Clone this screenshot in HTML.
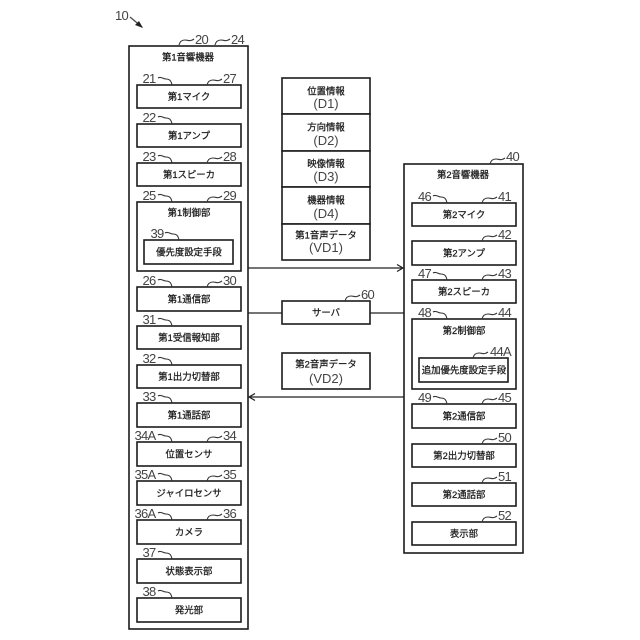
<!DOCTYPE html>
<html lang="ja"><head><meta charset="utf-8"><title>音響機器</title>
<style>
html,body{margin:0;padding:0;background:#fff}
svg{display:block}
text{font-family:"Liberation Sans","Noto Sans CJK JP",sans-serif;fill:#1a1a1a}
.t{font-size:9.4px;text-anchor:middle;stroke:#1a1a1a;stroke-width:.25px}
.m{font-size:13px;text-anchor:middle;fill:#444}
.e{font-size:13px;text-anchor:end;fill:#444;letter-spacing:-.7px}
.s{font-size:13px;text-anchor:start;fill:#444;letter-spacing:-.7px}
.b rect{fill:#fff;stroke:#1c1c1c;stroke-width:1.6}
.q use{fill:none;stroke:#333;stroke-width:1.1}
</style></head><body>
<svg width="640" height="640" viewBox="0 0 640 640" xmlns="http://www.w3.org/2000/svg">
<defs>
<path id="l" d="M0 0c3-2 5 1 8 1s5 1 6 6"/>
<path id="r" d="M0 7c1-4 3-5 6-5s5 2 9-1"/>
</defs>
<rect width="640" height="640" fill="#fff"/>

<!-- connectors -->
<g fill="none" stroke="#222" stroke-width="1.2">
<path d="M248 268H403M397 264.500L403 268L397 271.500"/>
<path d="M248 313H282M370 313H404"/>
<path d="M404 397H249M255 393.500L249 397L255 400.500"/>
<path d="M130 17L142 27" stroke="#444"/>
</g>
<path d="M143 28L135 25L139 21Z" fill="#222"/>

<!-- boxes -->
<g class="b">
<rect x="129" y="46" width="119" height="583"/>
<rect x="137" y="85" width="104" height="23"/>
<rect x="137" y="124" width="104" height="23"/>
<rect x="137" y="163" width="104" height="23"/>
<rect x="137" y="202" width="104" height="69"/>
<rect x="144" y="240" width="89" height="24"/>
<rect x="137" y="287" width="104" height="24"/>
<rect x="137" y="326" width="104" height="23"/>
<rect x="137" y="365" width="104" height="23"/>
<rect x="137" y="403" width="104" height="24"/>
<rect x="137" y="442" width="104" height="24"/>
<rect x="137" y="481" width="104" height="24"/>
<rect x="137" y="520" width="104" height="24"/>
<rect x="137" y="559" width="104" height="24"/>
<rect x="137" y="598" width="104" height="24"/>

<rect x="282" y="78" width="88" height="36"/>
<rect x="282" y="114" width="88" height="37"/>
<rect x="282" y="151" width="88" height="36"/>
<rect x="282" y="187" width="88" height="37"/>
<rect x="282" y="224" width="88" height="36"/>
<rect x="282" y="301" width="88" height="23"/>
<rect x="282" y="353" width="88" height="36"/>

<rect x="404" y="164" width="119" height="389"/>
<rect x="412" y="203" width="104" height="23"/>
<rect x="412" y="241" width="104" height="24"/>
<rect x="412" y="280" width="104" height="23"/>
<rect x="412" y="319" width="104" height="70"/>
<rect x="419" y="358" width="89" height="24"/>
<rect x="412" y="404" width="104" height="24"/>
<rect x="412" y="444" width="104" height="23"/>
<rect x="412" y="483" width="104" height="23"/>
<rect x="412" y="522" width="104" height="23"/>
</g>

<!-- box labels -->
<text class="t" x="188" y="60.500">第1音響機器</text>
<text class="t" x="189" y="100">第1マイク</text>
<text class="t" x="189" y="139">第1アンプ</text>
<text class="t" x="189" y="178">第1スピーカ</text>
<text class="t" x="189" y="216">第1制御部</text>
<text class="t" x="189" y="255.500">優先度設定手段</text>
<text class="t" x="189" y="302.500">第1通信部</text>
<text class="t" x="189" y="341">第1受信報知部</text>
<text class="t" x="189" y="380">第1出力切替部</text>
<text class="t" x="189" y="418.500">第1通話部</text>
<text class="t" x="189" y="457.500">位置センサ</text>
<text class="t" x="189" y="496.500">ジャイロセンサ</text>
<text class="t" x="189" y="535.500">カメラ</text>
<text class="t" x="189" y="574.500">状態表示部</text>
<text class="t" x="189" y="613.500">発光部</text>

<text class="t" x="326" y="94.500">位置情報</text><text class="m" x="326" y="108">(D1)</text>
<text class="t" x="326" y="130.500">方向情報</text><text class="m" x="326" y="145">(D2)</text>
<text class="t" x="326" y="167">映像情報</text><text class="m" x="326" y="181">(D3)</text>
<text class="t" x="326" y="203.500">機器情報</text><text class="m" x="326" y="218">(D4)</text>
<text class="t" x="326" y="238.500">第1音声データ</text><text class="m" x="326" y="252">(VD1)</text>
<text class="t" x="326" y="316">サーバ</text>
<text class="t" x="326" y="367.500">第2音声データ</text><text class="m" x="326" y="383">(VD2)</text>

<text class="t" x="463" y="178">第2音響機器</text>
<text class="t" x="464" y="218">第2マイク</text>
<text class="t" x="464" y="256.500">第2アンプ</text>
<text class="t" x="464" y="295">第2スピーカ</text>
<text class="t" x="464" y="334">第2制御部</text>
<text class="t" x="464" y="373.500">追加優先度設定手段</text>
<text class="t" x="464" y="419.500">第2通信部</text>
<text class="t" x="464" y="459">第2出力切替部</text>
<text class="t" x="464" y="498">第2通話部</text>
<text class="t" x="464" y="537">表示部</text>

<!-- reference numerals -->
<text class="s" x="115" y="20">10</text>
<text class="s" x="195" y="44">20</text>
<text class="s" x="231" y="44">24</text>
<text class="e" x="155.500" y="83">21</text><text class="s" x="223" y="83">27</text>
<text class="e" x="155.500" y="122">22</text>
<text class="e" x="155.500" y="161">23</text><text class="s" x="223" y="161">28</text>
<text class="e" x="155.500" y="200">25</text><text class="s" x="223" y="200">29</text>
<text class="e" x="163.500" y="238">39</text>
<text class="e" x="155.500" y="285">26</text><text class="s" x="223" y="285">30</text>
<text class="e" x="155.500" y="324">31</text>
<text class="e" x="155.500" y="363">32</text>
<text class="e" x="155.500" y="401">33</text>
<text class="e" x="155.500" y="440">34A</text><text class="s" x="223" y="440">34</text>
<text class="e" x="155.500" y="479">35A</text><text class="s" x="223" y="479">35</text>
<text class="e" x="155.500" y="518">36A</text><text class="s" x="223" y="518">36</text>
<text class="e" x="155.500" y="557">37</text>
<text class="e" x="155.500" y="596">38</text>
<text class="s" x="361" y="299">60</text>
<text class="s" x="506" y="161">40</text>
<text class="e" x="431" y="201">46</text><text class="s" x="498" y="201">41</text>
<text class="s" x="498" y="239">42</text>
<text class="e" x="431" y="278">47</text><text class="s" x="498" y="278">43</text>
<text class="e" x="431" y="317">48</text><text class="s" x="498" y="317">44</text>
<text class="s" x="490" y="356">44A</text>
<text class="e" x="431" y="402">49</text><text class="s" x="498" y="402">45</text>
<text class="s" x="498" y="442">50</text>
<text class="s" x="498" y="481">51</text>
<text class="s" x="498" y="520">52</text>

<!-- squiggles -->
<g class="q">
<use href="#r" x="179" y="38"/><use href="#r" x="215" y="38"/>
<use href="#l" x="158" y="78"/><use href="#r" x="207" y="78"/>
<use href="#l" x="158" y="117"/>
<use href="#l" x="158" y="156"/><use href="#r" x="207" y="156"/>
<use href="#l" x="158" y="195"/><use href="#r" x="207" y="195"/>
<use href="#l" x="165" y="233"/>
<use href="#l" x="158" y="280"/><use href="#r" x="207" y="280"/>
<use href="#l" x="158" y="319"/>
<use href="#l" x="158" y="358"/>
<use href="#l" x="158" y="396"/>
<use href="#l" x="158" y="435"/><use href="#r" x="207" y="435"/>
<use href="#l" x="158" y="474"/><use href="#r" x="207" y="474"/>
<use href="#l" x="158" y="513"/><use href="#r" x="207" y="513"/>
<use href="#l" x="158" y="552"/>
<use href="#l" x="158" y="591"/>
<use href="#r" x="345" y="294"/>
<use href="#r" x="490" y="157"/>
<use href="#l" x="433" y="196"/><use href="#r" x="482" y="196"/>
<use href="#r" x="482" y="234"/>
<use href="#l" x="433" y="273"/><use href="#r" x="482" y="273"/>
<use href="#l" x="433" y="312"/><use href="#r" x="482" y="312"/>
<use href="#r" x="473" y="351"/>
<use href="#l" x="433" y="397"/><use href="#r" x="482" y="397"/>
<use href="#r" x="482" y="437"/>
<use href="#r" x="482" y="476"/>
<use href="#r" x="482" y="515"/>
</g>
</svg>
</body></html>
